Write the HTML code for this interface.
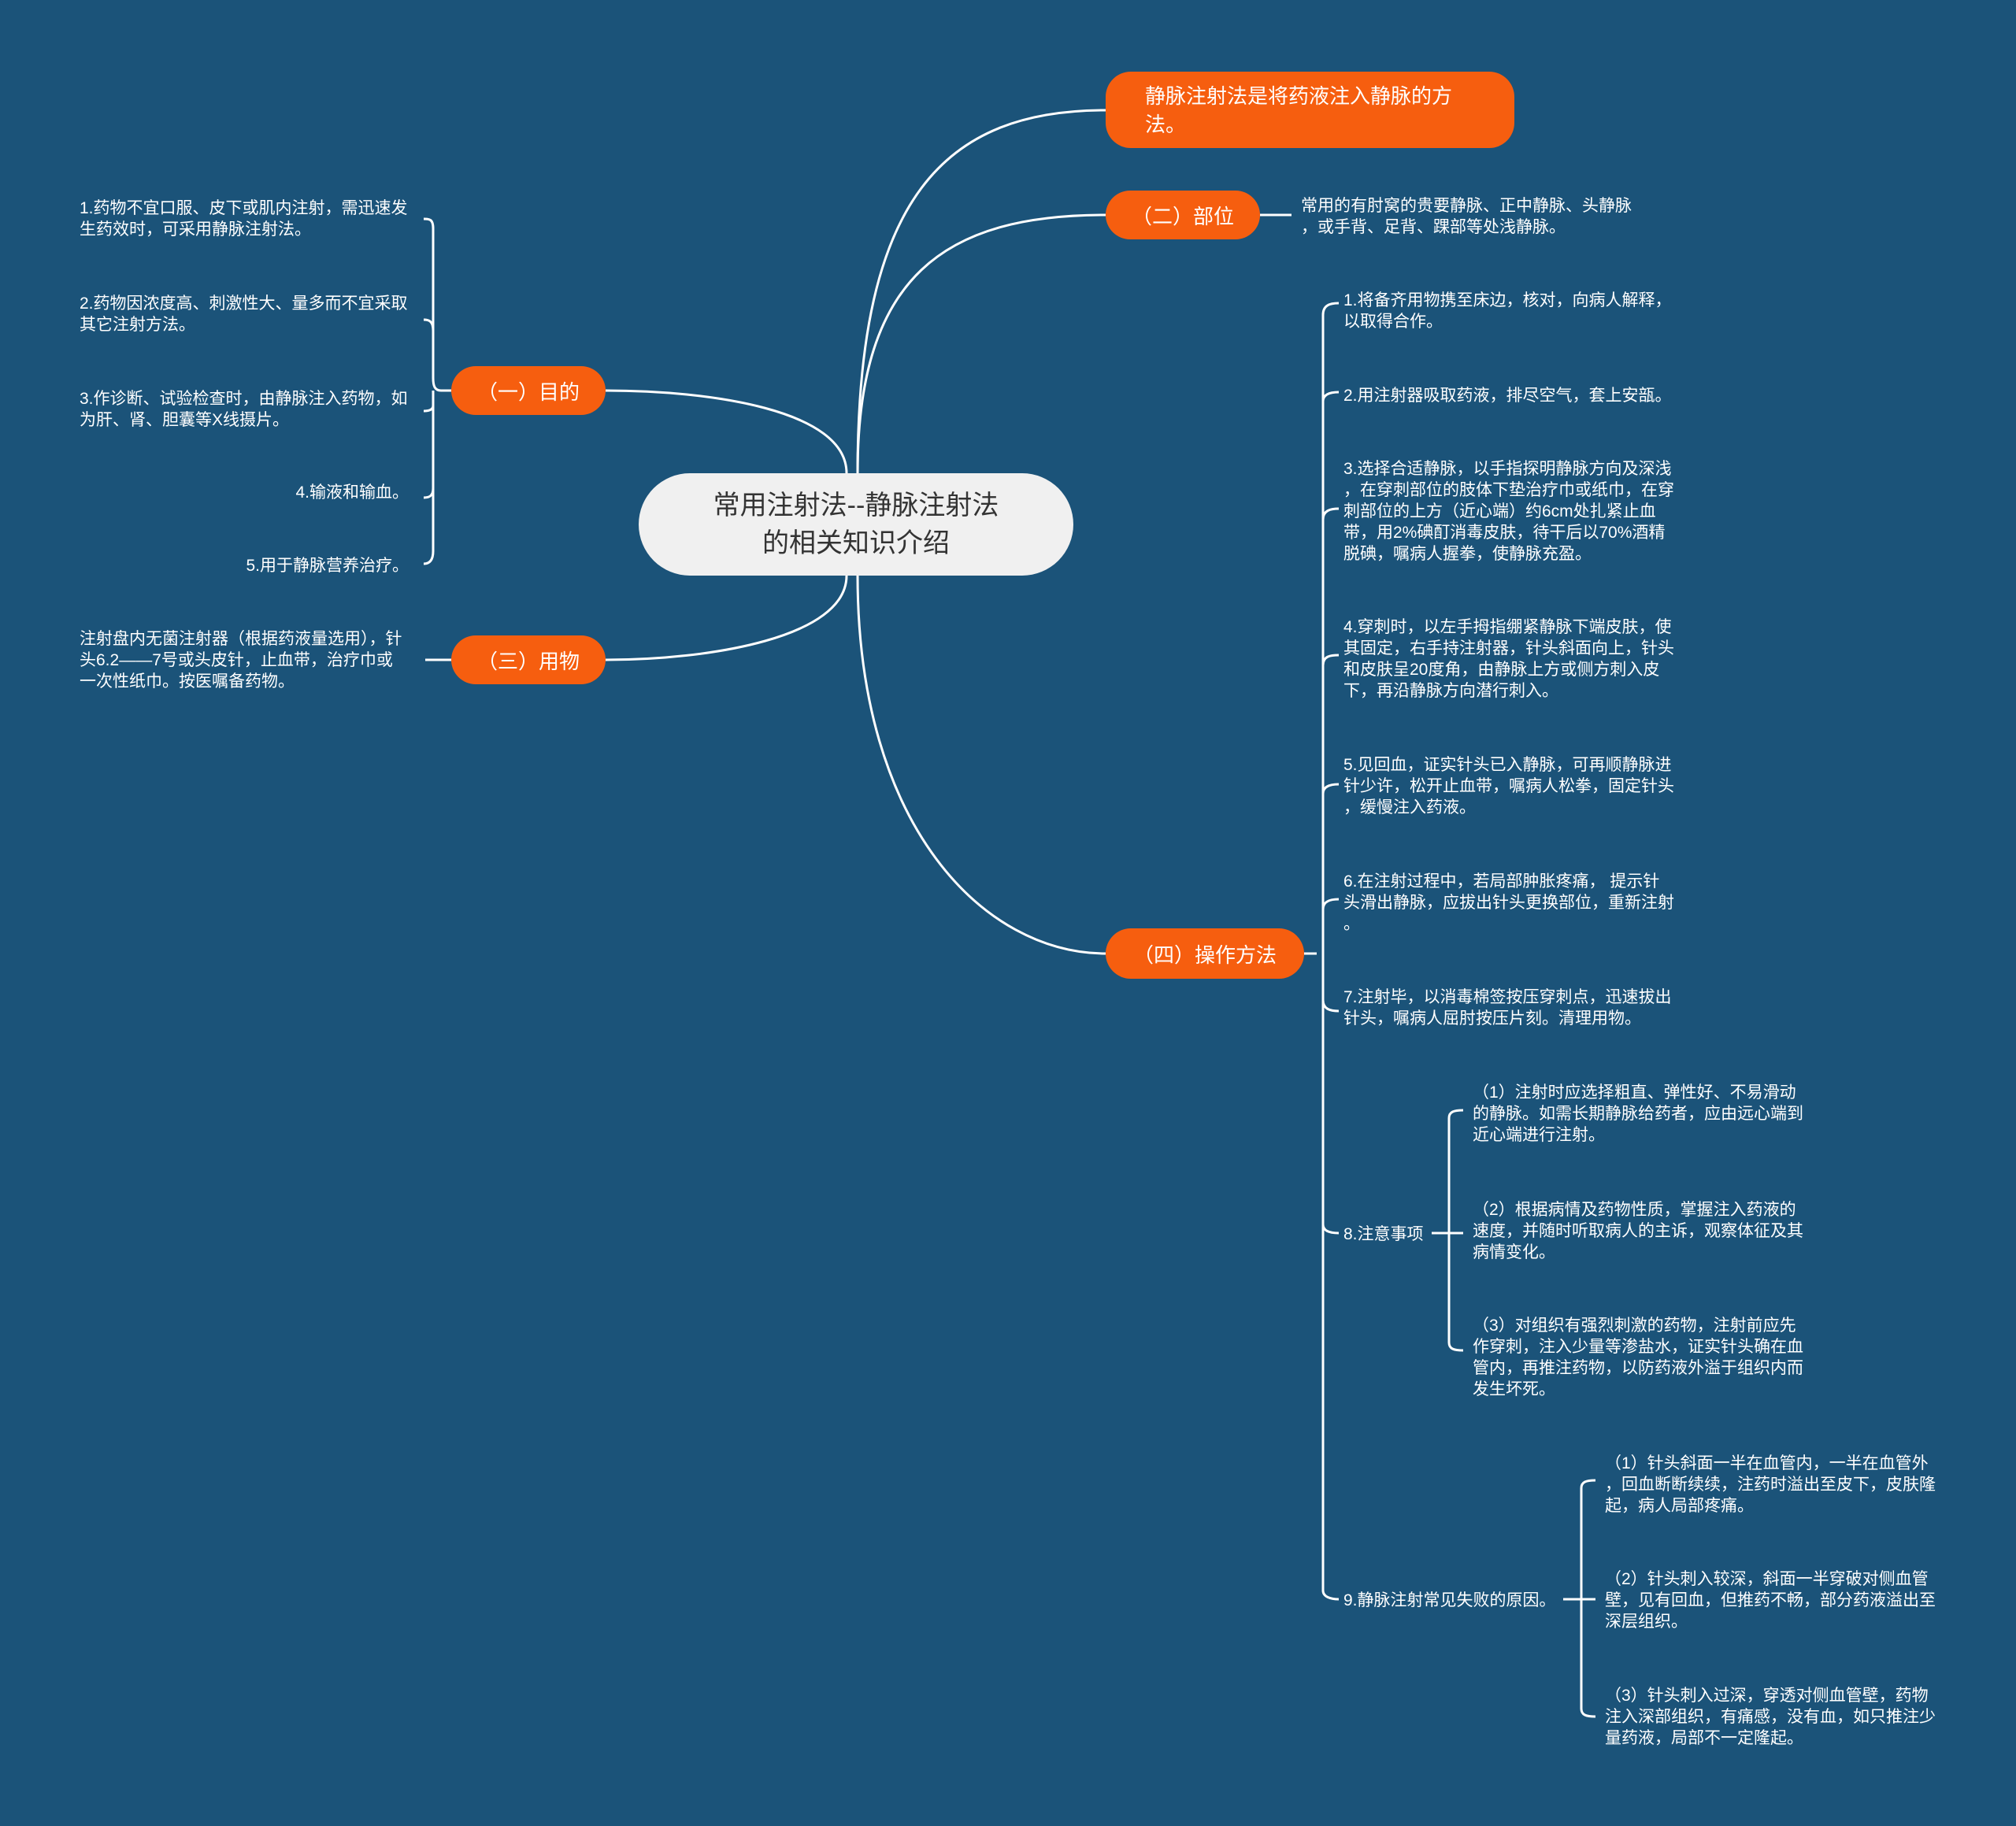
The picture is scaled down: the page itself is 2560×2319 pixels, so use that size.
<!DOCTYPE html>
<html><head><meta charset="utf-8"><style>
html,body{margin:0;padding:0}
body{width:2560px;height:2319px;background:#1b5379;position:relative;overflow:hidden;font-family:"Liberation Sans","Noto Sans CJK SC",sans-serif}
.t{position:absolute;color:#fff;font-size:21px;line-height:27px;white-space:nowrap;margin-top:2px}
.r{text-align:right}
.o{position:absolute;background:#f65e0f;color:#fff;border-radius:32px;font-size:26px;display:flex;align-items:center;justify-content:center}
svg{position:absolute;left:0;top:0}
</style></head><body>
<svg width="2560" height="2319" fill="none" stroke="#fff" stroke-width="3">
<path d="M1089 601 C1089 250 1200 140 1404 140"/>
<path d="M1089 601 C1089 350 1200 273 1404 273"/>
<path d="M1075 601 C1075 520 900 496 769 496"/>
<path d="M1075 731 C1075 810 900 838 769 838"/>
<path d="M1089 731 C1089 1050 1250 1211 1404 1211"/>
<path d="M1600 273 H1640"/>
<path d="M769 838 H540"/>
<path d="M573 496 H560 C552 496 550 490 550 480 V290 C550 278 545 278 538 278"/>
<path d="M550 480 V420 C550 408 545 406 538 406"/>
<path d="M550 500 V515 C550 520 545 522 538 522"/>
<path d="M550 496 V620 C550 630 545 632 538 632"/>
<path d="M550 496 V700 C550 712 545 716 538 716"/>
<path d="M1656 1211 H1672"/>
<path d="M1680 2020 V400 C1680 388 1688 385 1700 385"/>
<path d="M1680 510 C1680 500 1690 498 1700 498"/>
<path d="M1680 660 C1680 648 1690 646 1700 646"/>
<path d="M1680 845 C1680 833 1690 832 1700 832"/>
<path d="M1680 1008 C1680 998 1690 996 1700 996"/>
<path d="M1680 1155 C1680 1144 1690 1142 1700 1142"/>
<path d="M1680 1270 C1680 1282 1690 1284 1700 1284"/>
<path d="M1680 1555 C1680 1564 1690 1566 1700 1566"/>
<path d="M1680 2020 C1680 2028 1690 2031 1700 2031"/>
<path d="M1818 1566 H1840"/>
<path d="M1840 1420 C1840 1412 1846 1410 1858 1410 M1840 1420 V1705 C1840 1713 1846 1715 1858 1715 M1840 1566 H1858"/>
<path d="M1985 2031 H2008"/>
<path d="M2008 1890 C2008 1882 2014 1880 2026 1880 M2008 1890 V2170 C2008 2178 2014 2180 2026 2180 M2008 2031 H2026"/>
</svg>

<div style="position:absolute;left:811px;top:601px;width:552px;height:130px;background:#f0f0f0;border-radius:65px;display:flex;align-items:center;justify-content:center;text-align:center;font-size:34px;line-height:48px;color:#333">常用注射法--静脉注射法<br>的相关知识介绍</div>

<div class="o" style="left:1404px;top:91px;width:519px;height:97px;justify-content:flex-start;padding-left:50px;box-sizing:border-box;line-height:36px">静脉注射法是将药液注入静脉的方<br>法。</div>
<div class="o" style="left:1404px;top:242px;width:196px;height:62px">（二）部位</div>
<div class="o" style="left:573px;top:465px;width:196px;height:62px">（一）目的</div>
<div class="o" style="left:573px;top:807px;width:196px;height:62px">（三）用物</div>
<div class="o" style="left:1404px;top:1179px;width:252px;height:64px">（四）操作方法</div>

<div class="t" style="left:1652px;top:246px">常用的有肘窝的贵要静脉、正中静脉、头静脉<br>，或手背、足背、踝部等处浅静脉。</div>

<div class="t" style="left:101px;top:249px">1.药物不宜口服、皮下或肌内注射，需迅速发<br>生药效时，可采用静脉注射法。</div>
<div class="t" style="left:101px;top:370px">2.药物因浓度高、刺激性大、量多而不宜采取<br>其它注射方法。</div>
<div class="t" style="left:101px;top:491px">3.作诊断、试验检查时，由静脉注入药物，如<br>为肝、肾、胆囊等X线摄片。</div>
<div class="t r" style="right:2041px;top:610px">4.输液和输血。</div>
<div class="t r" style="right:2041px;top:703px">5.用于静脉营养治疗。</div>
<div class="t" style="left:101px;top:796px">注射盘内无菌注射器（根据药液量选用），针<br>头6.2——7号或头皮针，止血带，治疗巾或<br>一次性纸巾。按医嘱备药物。</div>

<div class="t" style="left:1706px;top:366px">1.将备齐用物携至床边，核对，向病人解释，<br>以取得合作。</div>
<div class="t" style="left:1706px;top:487px">2.用注射器吸取药液，排尽空气，套上安瓿。</div>
<div class="t" style="left:1706px;top:580px">3.选择合适静脉，以手指探明静脉方向及深浅<br>，在穿刺部位的肢体下垫治疗巾或纸巾，在穿<br>刺部位的上方（近心端）约6cm处扎紧止血<br>带，用2%碘酊消毒皮肤，待干后以70%酒精<br>脱碘，嘱病人握拳，使静脉充盈。</div>
<div class="t" style="left:1706px;top:781px">4.穿刺时，以左手拇指绷紧静脉下端皮肤，使<br>其固定，右手持注射器，针头斜面向上，针头<br>和皮肤呈20度角，由静脉上方或侧方刺入皮<br>下，再沿静脉方向潜行刺入。</div>
<div class="t" style="left:1706px;top:956px">5.见回血，证实针头已入静脉，可再顺静脉进<br>针少许，松开止血带，嘱病人松拳，固定针头<br>，缓慢注入药液。</div>
<div class="t" style="left:1706px;top:1104px">6.在注射过程中，若局部肿胀疼痛， 提示针<br>头滑出静脉，应拔出针头更换部位，重新注射<br>。</div>
<div class="t" style="left:1706px;top:1251px">7.注射毕，以消毒棉签按压穿刺点，迅速拔出<br>针头，嘱病人屈肘按压片刻。清理用物。</div>
<div class="t" style="left:1706px;top:1552px">8.注意事项</div>
<div class="t" style="left:1706px;top:2017px">9.静脉注射常见失败的原因。</div>

<div class="t" style="left:1870px;top:1372px">（1）注射时应选择粗直、弹性好、不易滑动<br>的静脉。如需长期静脉给药者，应由远心端到<br>近心端进行注射。</div>
<div class="t" style="left:1870px;top:1521px">（2）根据病情及药物性质，掌握注入药液的<br>速度，并随时听取病人的主诉，观察体征及其<br>病情变化。</div>
<div class="t" style="left:1870px;top:1668px">（3）对组织有强烈刺激的药物，注射前应先<br>作穿刺，注入少量等渗盐水，证实针头确在血<br>管内，再推注药物，以防药液外溢于组织内而<br>发生坏死。</div>

<div class="t" style="left:2038px;top:1843px">（1）针头斜面一半在血管内，一半在血管外<br>，回血断断续续，注药时溢出至皮下，皮肤隆<br>起，病人局部疼痛。</div>
<div class="t" style="left:2038px;top:1990px">（2）针头刺入较深，斜面一半穿破对侧血管<br>壁，见有回血，但推药不畅，部分药液溢出至<br>深层组织。</div>
<div class="t" style="left:2038px;top:2138px">（3）针头刺入过深，穿透对侧血管壁，药物<br>注入深部组织，有痛感，没有血，如只推注少<br>量药液，局部不一定隆起。</div>
</body></html>
